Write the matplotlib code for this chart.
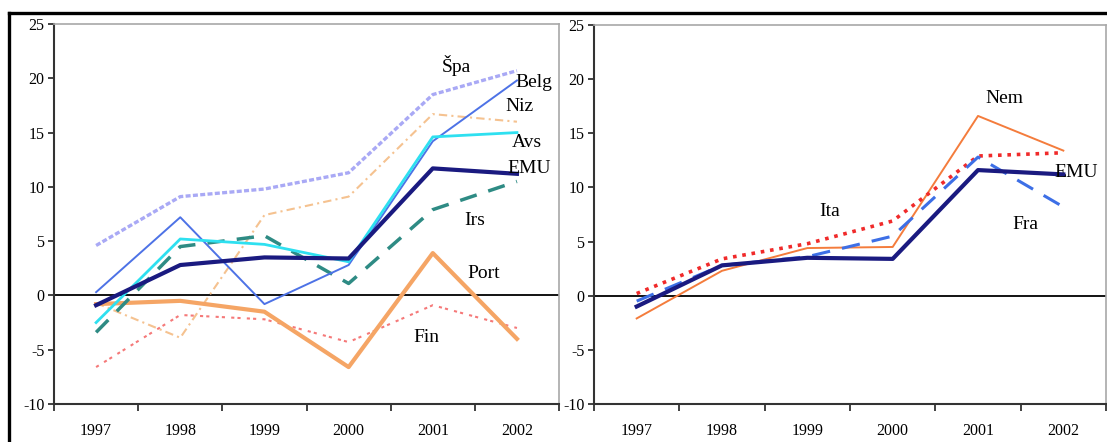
import numpy as np
import matplotlib
matplotlib.use("Agg")
import matplotlib.pyplot as plt
from matplotlib.lines import Line2D

plt.rcParams['font.family'] = ['Liberation Serif', 'DejaVu Serif']
plt.rcParams['axes.unicode_minus'] = False

years = ["1997", "1998", "1999", "2000", "2001", "2002"]

# left panel
emu = [-0.9, 2.8, 3.5, 3.4, 11.7, 11.2]
spa = [4.6, 9.1, 9.8, 11.3, 18.5, 20.7]
belg = [0.3, 7.2, -0.8, 2.8, 14.2, 19.8]
niz = [-0.7, -3.9, 7.4, 9.1, 16.7, 16.0]
avs = [-2.5, 5.2, 4.7, 3.1, 14.6, 15.0]
irs = [-3.4, 4.5, 5.5, 1.1, 7.9, 10.5]
port = [-0.8, -0.5, -1.5, -6.6, 3.9, -4.0]
fin = [-6.6, -1.8, -2.2, -4.3, -0.9, -3.0]

# right panel
emu_r = [-1.0, 2.8, 3.5, 3.4, 11.6, 11.2]
nem = [-2.1, 2.3, 4.4, 4.5, 16.6, 13.4]
ita = [0.2, 3.4, 4.8, 6.9, 12.9, 13.2]
fra = [-0.5, 2.8, 3.6, 5.5, 12.8, 8.2]

x = np.arange(len(years))

fig = plt.figure(figsize=(11.07, 4.42), dpi=100)
ax1 = fig.add_axes([0.0488, 0.086, 0.4562, 0.8597])
ax2 = fig.add_axes([0.5366, 0.086, 0.4625, 0.8575])


def style_axes(ax):
    ax.set_xlim(-0.5, 5.5)
    ax.set_ylim(-10, 25)
    ax.set_yticks(range(-10, 26, 5))
    ax.set_xticks(np.arange(-0.5, 6.0, 1.0))
    ax.set_xticklabels([])
    ax.set_xticks(x, minor=True)
    ax.set_xticklabels(years, minor=True)
    ax.tick_params(axis='x', which='major', direction='out', length=5, width=1.3, color='#333333')
    ax.tick_params(axis='x', which='minor', length=0, pad=14, labelsize=11.5)
    ax.tick_params(axis='y', direction='out', length=4, width=1.3, color='#333333', pad=3, labelsize=11.5)
    for s in ['left', 'bottom']:
        ax.spines[s].set_color('#333333')
        ax.spines[s].set_linewidth(1.5)
    for s in ['top', 'right']:
        ax.spines[s].set_color('#a8a8a8')
        ax.spines[s].set_linewidth(1.2)
    ax.axhline(0, color='black', lw=1.3, zorder=1)


style_axes(ax1)
style_axes(ax2)

# left panel lines
ax1.plot(x, spa, color='#8c8cf2', lw=2.4, ls=(0, (1.5, 0.7)), alpha=0.75)
ax1.plot(x, niz, color='#f5c290', lw=1.5, ls=(0, (4, 2, 1, 2)))
ax1.plot(x, fin, color='#f46a6a', lw=1.5, ls=(0, (1.5, 3, 1.5, 1.5)), alpha=0.9)
ax1.plot(x, port, color='#f5a565', lw=3.0)
ax1.plot(x, irs, color='#2e8b84', lw=2.5, ls=(0, (5, 3.5)))
ax1.plot(x, belg, color='#4d72e6', lw=1.4)
ax1.plot(x, avs, color='#2ee0f0', lw=2.0)
ax1.plot(x, emu, color='#1a1a80', lw=3.0)

lab = dict(fontsize=14, ha='center', va='center')
ax1.text(4.28, 21.2, "Špa", **lab)
ax1.text(5.2, 19.6, "Belg", **lab)
ax1.text(5.03, 17.4, "Niz", **lab)
ax1.text(5.12, 14.1, "Avs", **lab)
ax1.text(5.15, 11.7, "EMU", **lab)
ax1.text(4.5, 6.9, "Irs", **lab)
ax1.text(4.6, 2.0, "Port", **lab)
ax1.text(3.92, -3.9, "Fin", **lab)

# right panel lines
ax2.plot(x, nem, color='#f47c3c', lw=1.4)
ax2.plot(x, ita, color='#f02a2a', lw=2.6, ls=(0, (1, 1.6)))
ax2.plot(x, fra, color='#3d6fe6', lw=2.2, ls=(0, (6, 4)))
ax2.plot(x, emu_r, color='#1a1a80', lw=3.0)

ax2.text(4.31, 18.2, "Nem", **lab)
ax2.text(2.26, 7.8, "Ita", **lab)
ax2.text(5.15, 11.4, "EMU", **lab)
ax2.text(4.56, 6.6, "Fra", **lab)

# outer frame (top and left thick black border)
fig.add_artist(Line2D([0.0081, 0.999], [0.9706, 0.9706], color='black', lw=2.4,
                      transform=fig.transFigure))
fig.add_artist(Line2D([0.0081, 0.0081], [0.0, 0.9706], color='black', lw=2.4,
                      transform=fig.transFigure))

fig.savefig("out.png", dpi=100)
